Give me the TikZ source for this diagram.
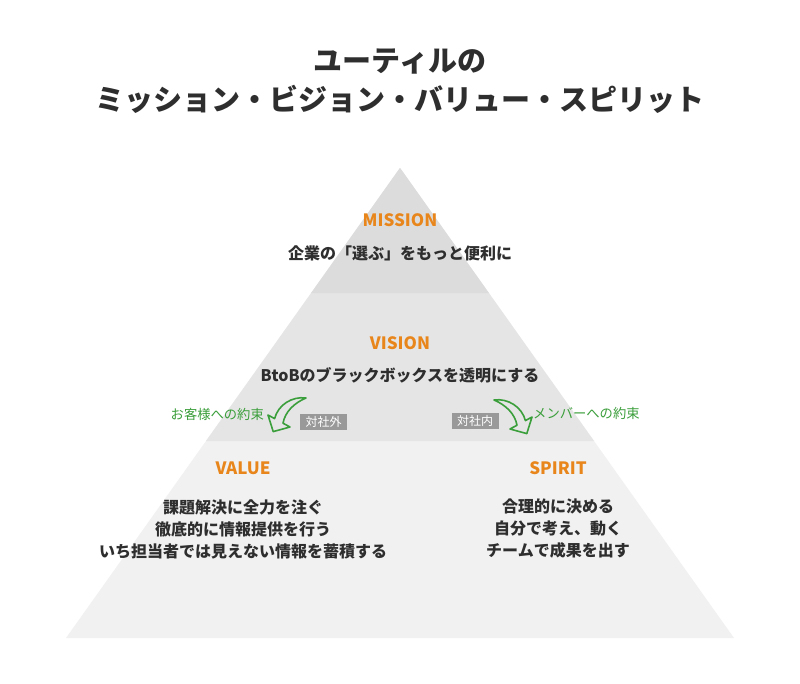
\documentclass[tikz,border=0pt]{standalone}
\usepackage{fontspec}
\setmainfont{Noto Sans CJK JP}
\definecolor{bandA}{HTML}{DCDCDC}
\definecolor{bandB}{HTML}{E5E5E5}
\definecolor{bandC}{HTML}{F1F1F1}
\definecolor{txt}{HTML}{2E2E2E}
\definecolor{accent}{HTML}{E8861C}
\definecolor{leaf}{HTML}{3A9E3A}
\definecolor{tagbg}{HTML}{999999}
\tikzset{
  ttl/.style={font=\bfseries\fontsize{29}{39}\selectfont, text=txt, align=center, inner sep=0},
  head/.style={font=\bfseries\fontsize{17}{20}\selectfont, text=accent, inner sep=0},
  body/.style={font=\bfseries\fontsize{16}{22}\selectfont, text=txt, align=center, inner sep=0},
  note/.style={font=\fontsize{13.3}{15}\selectfont, text=leaf, inner sep=0},
  tag/.style={font=\fontsize{12}{13}\selectfont, text=white, fill=tagbg, minimum width=47pt, minimum height=16pt, inner sep=0},
  curvy/.style={draw=leaf, line width=1.6pt, line join=round}
}
\begin{document}
\begin{tikzpicture}[x=1pt,y=-1pt]
\useasboundingbox (0,0) rectangle (800,683);
\fill[white] (0,0) rectangle (800,683);
% pyramid bands
\fill[bandC] (400,168) -- (734,638) -- (66,638) -- cycle;
\fill[bandB] (400,168) -- (594,441) -- (206,441) -- cycle;
\fill[bandA] (400,168) -- (488.8,293) -- (311.2,293) -- cycle;
% title
\node[ttl] (title) at (400,81) {ユーティルの\\ミッション・ビジョン・バリュー・スピリット};
% mission
\node[head] (mission) at (400,220) {MISSION};
\node[body] (missiontxt) at (400,253) {企業の「選ぶ」をもっと便利に};
% vision
\node[head] (vision) at (400,343) {VISION};
\node[body] (visiontxt) at (400,375) {BtoBのブラックボックスを透明にする};
% arrows
\draw[curvy] (306,398) .. controls (292,396) and (278,405) .. (274.6,418.6)
  -- (268,415) -- (273.2,431.6) -- (290,427) -- (283,423.2)
  .. controls (285,412) and (294,403) .. (306,398) -- cycle;
\begin{scope}[yshift=-2pt]
\draw[curvy] (494,398) .. controls (508,396) and (522,405) .. (525.4,418.6)
  -- (532,415) -- (526.8,431.6) -- (510,427) -- (517,423.2)
  .. controls (515,412) and (506,403) .. (494,398) -- cycle;
\end{scope}
\node[note, anchor=east] (cust) at (264,414) {お客様への約束};
\node[note, anchor=west] (memb) at (533,413) {メンバーへの約束};
\node[tag] (outer) at (323.5,421.5) {対社外};
\node[tag] (inner) at (475,421) {対社内};
% value
\node[head] (value) at (243,468) {VALUE};
\node[body] (valuetxt) at (243,529) {課題解決に全力を注ぐ\\徹底的に情報提供を行う\\いち担当者では見えない情報を蓄積する};
% spirit
\node[head] (spirit) at (558,468) {SPIRIT};
\node[body] (spirittxt) at (558,529) {合理的に決める\\自分で考え、動く\\チームで成果を出す};
\end{tikzpicture}
\end{document}
